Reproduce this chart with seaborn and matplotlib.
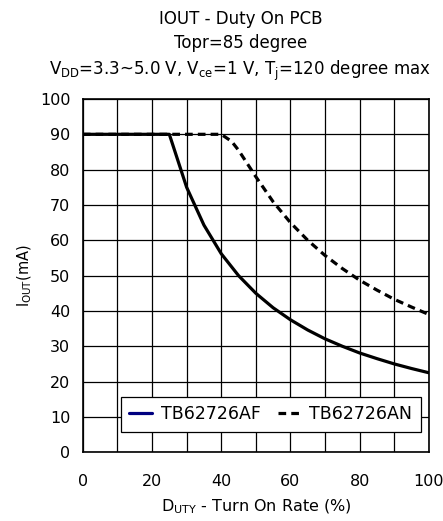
import pandas as pd
import matplotlib
matplotlib.use('Agg')
import matplotlib.pyplot as plt
import seaborn as sns
from matplotlib.lines import Line2D

# values
duty_af = [0, 25, 30, 35, 40, 45, 50, 55, 60, 65, 70, 75, 80, 85, 90, 95, 100]
iout_af = [90, 90, 75, 64.3, 56.2, 50, 45, 40.9, 37.5, 34.6, 32.1, 30, 28.1, 26.5, 25, 23.7, 22.5]
duty_an = [0, 40, 43, 45, 47, 50, 55, 60, 65, 70, 75, 80, 85, 90, 95, 100]
iout_an = [90, 90, 88, 85.5, 82.5, 78, 70.9, 65, 60, 55.7, 52, 48.7, 45.9, 43.3, 41.1, 39]
series = ["TB62726AF", "TB62726AN"]

df = pd.concat([
    pd.DataFrame({"duty": duty_af, "iout": iout_af, "part": series[0]}),
    pd.DataFrame({"duty": duty_an, "iout": iout_an, "part": series[1]}),
])

sns.set_style("white", {"text.color": "black", "axes.labelcolor": "black",
                        "xtick.color": "black", "ytick.color": "black"})
plt.rcParams['font.family'] = ['DejaVu Sans']
plt.rcParams['mathtext.fontset'] = 'dejavusans'

FS = 11.5

fig = plt.figure(figsize=(4.43, 5.21), dpi=100)
ax = fig.add_axes([0.187, 0.132, 0.781, 0.678])

sns.lineplot(data=df, x="duty", y="iout", hue="part", style="part",
             palette=["black", "black"], dashes={series[0]: "", series[1]: (2.4, 1.6)},
             linewidth=2.3, legend=False, ax=ax, sort=False, estimator=None)

ax.set_xlim(0, 100)
ax.set_ylim(0, 100)
ax.set_xticks(range(0, 101, 10), minor=True)
ax.set_xticks(range(0, 101, 20))
ax.set_yticks(range(0, 101, 10))
ax.grid(True, which="both", color="black", linewidth=0.9)
ax.set_axisbelow(True)
for s in ax.spines.values():
    s.set_color("black")
    s.set_linewidth(1.2)
ax.tick_params(axis="x", which="both", direction="in", length=0, pad=16, labelsize=FS)
ax.tick_params(axis="y", direction="in", length=4, pad=9, labelsize=FS)

ax.set_xlabel("D$_{\\mathrm{UTY}}$ - Turn On Rate (%)", fontsize=FS, labelpad=6)
ax.set_ylabel("I$_{\\mathrm{OUT}}$(mA)", fontsize=10.5, labelpad=4)
ax.set_title("IOUT - Duty On PCB\nTopr=85 degree\n"
             "V$_{\\mathrm{DD}}$=3.3~5.0 V, V$_{\\mathrm{ce}}$=1 V, T$_{\\mathrm{j}}$=120 degree max",
             fontsize=12, linespacing=1.45, pad=17, x=0.455)

handles = [Line2D([0], [0], color="#000080", lw=2.3),
           Line2D([0], [0], color="black", lw=2.3, dashes=(2.4, 1.6))]
leg = ax.legend(handles, series, ncol=2, loc="lower right", bbox_to_anchor=(0.977, 0.057),
                fontsize=12.5, frameon=True, fancybox=False, handlelength=1.3,
                handletextpad=0.5, columnspacing=1.0, borderpad=0.5, borderaxespad=0)
leg.get_frame().set_edgecolor("black")
leg.get_frame().set_linewidth(0.9)
leg.get_frame().set_alpha(1)

fig.savefig("out.png", dpi=100)
